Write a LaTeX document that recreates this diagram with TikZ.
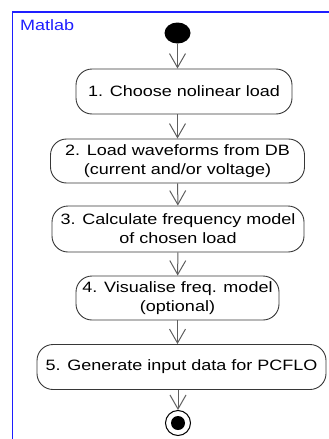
\documentclass[tikz,border=0pt]{standalone}
\usepackage{fontspec}
\setmainfont{Liberation Sans}[FakeStretch=1.2]
\usetikzlibrary{arrows.meta, shapes.geometric}
\definecolor{laneblue}{RGB}{30, 30, 255}
\definecolor{flowgray}{RGB}{95, 95, 95}
\definecolor{boxgray}{RGB}{55, 55, 55}

\begin{document}
\begin{tikzpicture}[x=1pt, y=-1pt,
  act/.style={draw=boxgray, rounded corners=16pt, line width=0.9pt, align=center, inner sep=0pt, font=\fontsize{15}{19}\selectfont},
  flow/.style={draw=flowgray, line width=1pt, -{Straight Barb[length=14pt, width=16pt]}},
]
\useasboundingbox (0,0) rectangle (329,439);

% Matlab partition
\draw[laneblue, line width=1.2pt] (12.5,445) |- (335,12);
\node[laneblue, anchor=west, inner sep=0pt, font=\fontsize{15}{17}\selectfont] (lane) at (20,25) {Matlab};

% Start and end
\node[ellipse, fill=black, minimum width=26pt, minimum height=21pt, inner sep=0pt] (start) at (177.5,33) {};
\node[circle, draw=black, line width=1pt, minimum size=25pt, inner sep=0pt] (stop) at (178,423) {};
\node[circle, fill=black, minimum size=14pt, inner sep=0pt] (stopdot) at (stop) {};

% Actions
\node[act, minimum width=216pt, minimum height=45pt] (s1) at (184,91.5) {1. Choose nolinear load};
\node[act, minimum width=254pt, minimum height=44pt] (s2) at (177.5,161) {2. Load waveforms from DB\\(current and/or voltage)};
\node[act, minimum width=252pt, minimum height=46pt] (s3) at (178,229) {3. Calculate frequency model\\of chosen load};
\node[act, minimum width=203pt, minimum height=44pt] (s4) at (177.5,298) {4. Visualise freq. model\\(optional)};
\node[act, minimum width=289pt, minimum height=45pt] (s5) at (181.5,367) {5. Generate input data for PCFLO};

% Flow
\draw[flow] (start) -- (start |- s1.north);
\draw[flow] (s2.north |- s1.south) -- (s2.north);
\draw[flow] (s2) -- (s3);
\draw[flow] (s3) -- (s4);
\draw[flow] (s4.south) -- (s4.south |- s5.north);
\draw[flow] (stop |- s5.south) -- (stop);
\end{tikzpicture}
\end{document}
